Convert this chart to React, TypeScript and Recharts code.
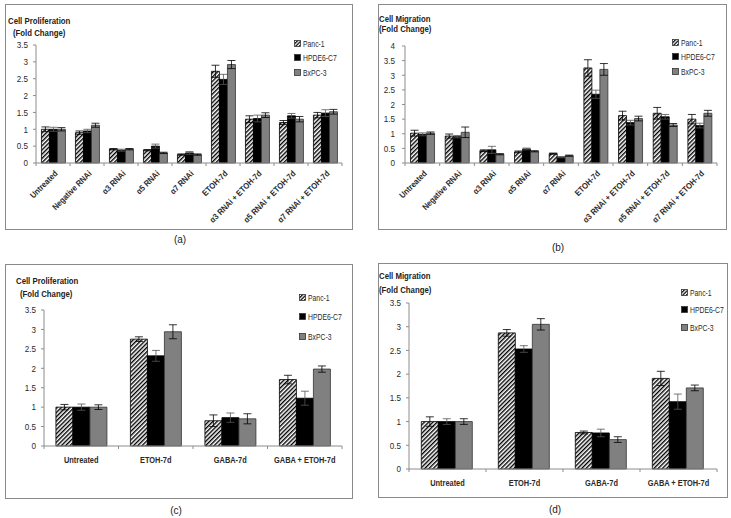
import type { CSSProperties } from "react";
import { Bar, BarChart, ErrorBar, XAxis, YAxis } from "recharts";

const FONT = "'Liberation Sans', Arial, sans-serif";

const SERIES = ["Panc-1", "HPDE6-C7", "BxPC-3"];

const rnaiCats = [
  "Untreated",
  "Negative RNAi",
  "α3 RNAi",
  "α5 RNAi",
  "α7 RNAi",
  "ETOH-7d",
  "α3 RNAi + ETOH-7d",
  "α5 RNAi + ETOH-7d",
  "α7 RNAi + ETOH-7d",
];
const gabaCats = ["Untreated", "ETOH-7d", "GABA-7d", "GABA + ETOH-7d"];

const ticks35 = [0, 0.5, 1, 1.5, 2, 2.5, 3, 3.5];
const ticks4 = [0, 0.5, 1, 1.5, 2, 2.5, 3, 3.5, 4];

// (a) proliferation with RNAi
const profRnaiPanc = [1.0, 0.9, 0.41, 0.38, 0.25, 2.72, 1.3, 1.2, 1.42];
const profRnaiHpde = [1.0, 0.95, 0.38, 0.5, 0.3, 2.48, 1.32, 1.4, 1.48];
const profRnaiBx = [1.0, 1.12, 0.41, 0.3, 0.25, 2.92, 1.42, 1.3, 1.52];
const profRnaiPancErr = [0.07, 0.05, 0.02, 0.02, 0.02, 0.18, 0.1, 0.06, 0.08];
const profRnaiHpdeErr = [0.06, 0.05, 0.03, 0.06, 0.04, 0.15, 0.1, 0.07, 0.1];
const profRnaiBxErr = [0.05, 0.06, 0.02, 0.02, 0.02, 0.12, 0.07, 0.08, 0.07];

// (b) migration with RNAi
const migRnaiPanc = [1.02, 0.92, 0.42, 0.38, 0.32, 3.25, 1.62, 1.7, 1.5];
const migRnaiHpde = [0.98, 0.9, 0.45, 0.48, 0.2, 2.35, 1.38, 1.58, 1.28];
const migRnaiBx = [1.02, 1.05, 0.3, 0.4, 0.25, 3.2, 1.52, 1.3, 1.7];
const migRnaiPancErr = [0.1, 0.07, 0.03, 0.03, 0.02, 0.28, 0.15, 0.2, 0.16];
const migRnaiHpdeErr = [0.05, 0.04, 0.12, 0.03, 0.02, 0.14, 0.08, 0.08, 0.08];
const migRnaiBxErr = [0.04, 0.18, 0.02, 0.02, 0.02, 0.2, 0.08, 0.05, 0.1];

// (c) proliferation with GABA
const profGabaPanc = [1.0, 2.75, 0.65, 1.71];
const profGabaHpde = [1.0, 2.32, 0.73, 1.23];
const profGabaBx = [1.0, 2.94, 0.7, 1.98];
const profGabaPancErr = [0.07, 0.06, 0.15, 0.11];
const profGabaHpdeErr = [0.08, 0.14, 0.12, 0.18];
const profGabaBxErr = [0.06, 0.18, 0.13, 0.08];

// (d) migration with GABA
const migGabaPanc = [1.0, 2.87, 0.77, 1.91];
const migGabaHpde = [1.0, 2.53, 0.76, 1.42];
const migGabaBx = [1.0, 3.05, 0.62, 1.71];
const migGabaPancErr = [0.1, 0.07, 0.03, 0.15];
const migGabaHpdeErr = [0.06, 0.07, 0.08, 0.16];
const migGabaBxErr = [0.06, 0.12, 0.06, 0.06];

type Row = {
  name: string;
  panc: number;
  hpde: number;
  bx: number;
  pancErr: number;
  hpdeErr: number;
  bxErr: number;
};

function rows(cats: string[], v: number[][], e: number[][]): Row[] {
  return cats.map((name, i) => ({
    name,
    panc: v[0][i],
    hpde: v[1][i],
    bx: v[2][i],
    pancErr: e[0][i],
    hpdeErr: e[1][i],
    bxErr: e[2][i],
  }));
}

const dataA = rows(rnaiCats, [profRnaiPanc, profRnaiHpde, profRnaiBx], [profRnaiPancErr, profRnaiHpdeErr, profRnaiBxErr]);
const dataB = rows(rnaiCats, [migRnaiPanc, migRnaiHpde, migRnaiBx], [migRnaiPancErr, migRnaiHpdeErr, migRnaiBxErr]);
const dataC = rows(gabaCats, [profGabaPanc, profGabaHpde, profGabaBx], [profGabaPancErr, profGabaHpdeErr, profGabaBxErr]);
const dataD = rows(gabaCats, [migGabaPanc, migGabaHpde, migGabaBx], [migGabaPancErr, migGabaHpdeErr, migGabaBxErr]);

const GRAY = "#808080";
const AXIS = "#8c8c8c";
const TEXT = "#2a2a2a";

type PanelProps = {
  id: string;
  data: Row[];
  ticks: number[];
  left: number;
  top: number;
  width: number;
  height: number;
  margin: { top: number; right: number; left: number; bottom: number };
  yWidth: number;
  yGap: number;
  xHeight: number;
  slanted: boolean;
};

function Panel({ id, data, ticks, left, top, width, height, margin, yWidth, yGap, xHeight, slanted }: PanelProps) {
  const band = (width - margin.left - margin.right - yWidth) / data.length;
  const hatch = `hatch-${id}`;

  // the source figure is squeezed sideways, so glyphs are narrowed with a scale
  const YTick = (props: any) => {
    const { x, y, payload } = props;
    return (
      <text
        transform={`translate(${x} ${y}) scale(0.85 1)`}
        textAnchor="end"
        dy="0.35em"
        fontSize={9.5}
        fontFamily={FONT}
        fill={TEXT}
      >
        {payload.value}
      </text>
    );
  };

  // category label plus the Excel-style tick mark at each category boundary
  const XTick = (props: any) => {
    const { x, y, payload } = props;
    const marks = (
      <>
        <line x1={x - band / 2} x2={x - band / 2} y1={y} y2={y + 3} stroke={AXIS} strokeWidth={1} />
        {payload.index === data.length - 1 && (
          <line x1={x + band / 2} x2={x + band / 2} y1={y} y2={y + 3} stroke={AXIS} strokeWidth={1} />
        )}
      </>
    );
    if (slanted) {
      return (
        <g>
          {marks}
          <text
            transform={`translate(${x + 3} ${y + 9}) rotate(-45) scale(0.88 1)`}
            dy="0.35em"
            textAnchor="end"
            fontSize={8.5}
            fontWeight="bold"
            fontFamily={FONT}
            fill={TEXT}
          >
            {payload.value}
          </text>
        </g>
      );
    }
    return (
      <g>
        {marks}
        <text
          transform={`translate(${x} ${y + 14}) scale(0.78 1)`}
          dy="0.35em"
          textAnchor="middle"
          fontSize={9.5}
          fontWeight="bold"
          fontFamily={FONT}
          fill={TEXT}
        >
          {payload.value}
        </text>
      </g>
    );
  };

  return (
    <div style={{ position: "absolute", left, top }}>
      <BarChart width={width} height={height} data={data} margin={margin} barCategoryGap="16%" barGap={0}>
        <defs>
          <pattern id={hatch} patternUnits="userSpaceOnUse" width={3} height={3} patternTransform="rotate(45)">
            <rect width={3} height={3} fill="#fff" />
            <rect width={1.4} height={3} fill="#000" />
          </pattern>
        </defs>
        <XAxis
          dataKey="name"
          interval={0}
          height={xHeight}
          tickSize={0}
          tickMargin={0}
          tickLine={false}
          axisLine={{ stroke: AXIS }}
          tick={XTick}
        />
        <YAxis
          width={yWidth}
          domain={[0, ticks[ticks.length - 1]]}
          ticks={ticks}
          interval={0}
          tickSize={3}
          tickMargin={yGap}
          tickLine={{ stroke: AXIS }}
          axisLine={{ stroke: AXIS }}
          tick={YTick}
        />
        <Bar dataKey="panc" fill={`url(#${hatch})`} stroke="#000" strokeWidth={0.8} isAnimationActive={false}>
          <ErrorBar dataKey="pancErr" width={4} stroke="#000" strokeWidth={0.8} />
        </Bar>
        <Bar dataKey="hpde" fill="#000" stroke="#000" strokeWidth={0.8} isAnimationActive={false}>
          <ErrorBar dataKey="hpdeErr" width={4} stroke="#555" strokeWidth={0.8} />
        </Bar>
        <Bar dataKey="bx" fill={GRAY} stroke="#333" strokeWidth={0.8} isAnimationActive={false}>
          <ErrorBar dataKey="bxErr" width={4} stroke="#000" strokeWidth={0.8} />
        </Bar>
      </BarChart>
    </div>
  );
}

const squeeze = (s: number): CSSProperties => ({
  display: "inline-block",
  transform: `scaleX(${s})`,
  transformOrigin: "left center",
});

function LegendBlock({ left, top, gap, id }: { left: number; top: number; gap: number; id: string }) {
  const fills = [`url(#legend-hatch-${id})`, "#000", GRAY];
  return (
    <div style={{ position: "absolute", left, top, fontFamily: FONT, fontSize: 9.5, color: TEXT }}>
      {SERIES.map((s, i) => (
        <div
          key={s}
          style={{ position: "absolute", top: i * gap, left: 0, whiteSpace: "nowrap", display: "flex", alignItems: "center", height: 12 }}
        >
          <svg width={7} height={7} style={{ marginRight: 1.5 }}>
            <defs>
              <pattern id={`legend-hatch-${id}`} patternUnits="userSpaceOnUse" width={2.5} height={2.5} patternTransform="rotate(45)">
                <rect width={2.5} height={2.5} fill="#fff" />
                <rect width={1.2} height={2.5} fill="#000" />
              </pattern>
            </defs>
            <rect x={0.5} y={0.5} width={6} height={6} fill={fills[i]} stroke="#333" strokeWidth={0.8} />
          </svg>
          <span style={squeeze(0.72)}>{s}</span>
        </div>
      ))}
    </div>
  );
}

const frame = (left: number, top: number, width: number, height: number): CSSProperties => ({
  position: "absolute",
  left,
  top,
  width,
  height,
  border: "1px solid #8a8a8a",
  boxSizing: "border-box",
});

const titleStyle = (left: number, top: number): CSSProperties => ({
  position: "absolute",
  left,
  top,
  fontFamily: FONT,
  fontSize: 9.5,
  fontWeight: "bold",
  color: "#222",
  lineHeight: "12px",
  whiteSpace: "nowrap",
  transform: "scaleX(0.82)",
  transformOrigin: "left top",
});

const captionStyle = (cx: number, top: number): CSSProperties => ({
  position: "absolute",
  left: cx - 20,
  width: 40,
  top,
  textAlign: "center",
  fontFamily: FONT,
  fontSize: 10,
  color: "#222",
});

export default function App() {
  return (
    <div style={{ position: "absolute", left: 0, top: 0, width: 731, height: 518, background: "#fff", overflow: "hidden" }}>
      {/* (a) */}
      <div style={frame(5, 4, 348, 226)} />
      <Panel
        id="a"
        data={dataA}
        ticks={ticks35}
        left={0}
        top={0}
        width={352}
        height={230}
        margin={{ top: 45, right: 10, left: 0, bottom: 0 }}
        yWidth={36}
        yGap={5}
        xHeight={67}
        slanted
      />
      <div style={titleStyle(8, 15)}>Cell Proliferation</div>
      <div style={titleStyle(13, 27)}>(Fold Change)</div>
      <LegendBlock id="a" left={294} top={37} gap={14.5} />
      <div style={captionStyle(180, 234)}>(a)</div>

      {/* (b) */}
      <div style={frame(378, 4, 349, 226)} />
      <Panel
        id="b"
        data={dataB}
        ticks={ticks4}
        left={365}
        top={0}
        width={366}
        height={230}
        margin={{ top: 46, right: 14, left: 0, bottom: 0 }}
        yWidth={40}
        yGap={7}
        xHeight={67}
        slanted
      />
      <div style={titleStyle(379, 13)}>Cell Migration</div>
      <div style={titleStyle(379, 23)}>(Fold Change)</div>
      <LegendBlock id="b" left={672} top={36} gap={14.5} />
      <div style={captionStyle(558, 242)}>(b)</div>

      {/* (c) */}
      <div style={frame(5, 264, 348, 235)} />
      <Panel
        id="c"
        data={dataC}
        ticks={ticks35}
        left={0}
        top={260}
        width={352}
        height={238}
        margin={{ top: 50, right: 10, left: 0, bottom: 0 }}
        yWidth={44}
        yGap={5}
        xHeight={52}
        slanted={false}
      />
      <div style={titleStyle(16, 275)}>Cell Proliferation</div>
      <div style={titleStyle(20, 288)}>(Fold Change)</div>
      <LegendBlock id="c" left={299} top={291} gap={19.5} />
      <div style={captionStyle(176, 505)}>(c)</div>

      {/* (d) */}
      <div style={frame(378, 263, 350, 235)} />
      <Panel
        id="d"
        data={dataD}
        ticks={ticks35}
        left={365}
        top={260}
        width={366}
        height={238}
        margin={{ top: 43, right: 14, left: 0, bottom: 0 }}
        yWidth={44}
        yGap={5}
        xHeight={29}
        slanted={false}
      />
      <div style={titleStyle(379, 270)}>Cell Migration</div>
      <div style={titleStyle(379, 284)}>(Fold Change)</div>
      <LegendBlock id="d" left={681} top={286} gap={17.5} />
      <div style={captionStyle(555, 504)}>(d)</div>
    </div>
  );
}
